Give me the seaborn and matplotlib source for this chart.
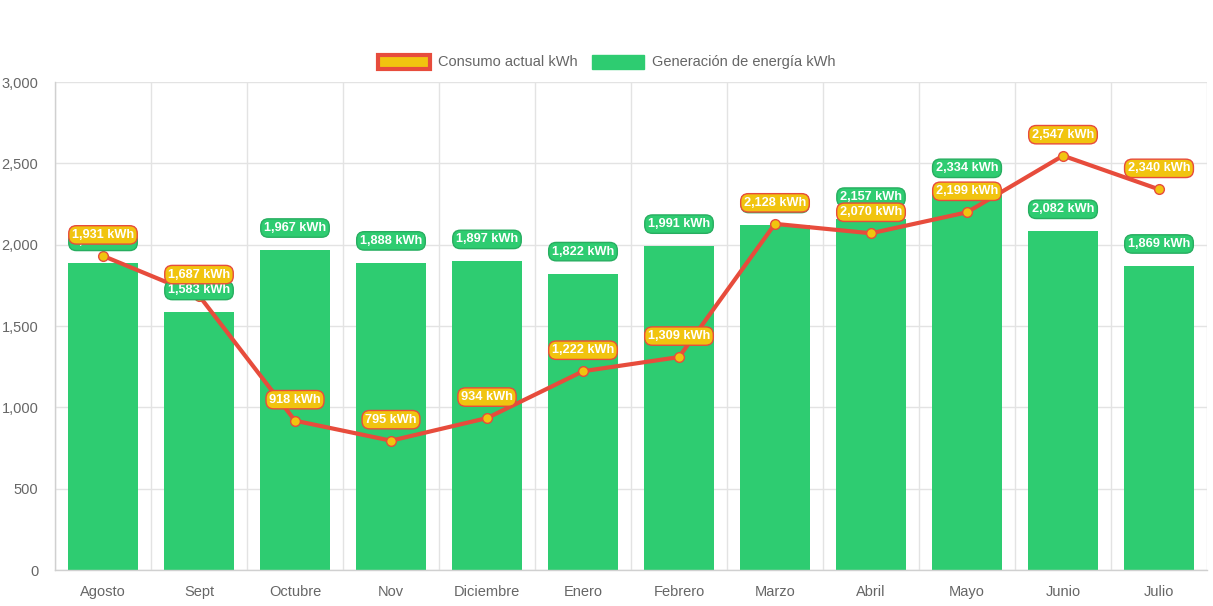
import numpy as np
import pandas as pd
import matplotlib
matplotlib.use("Agg")
import matplotlib.pyplot as plt
import seaborn as sns
from matplotlib.patches import Patch

meses = ["Agosto", "Sept", "Octubre", "Nov", "Diciembre", "Enero",
         "Febrero", "Marzo", "Abril", "Mayo", "Junio", "Julio"]
generacion = [1885, 1583, 1967, 1888, 1897, 1822, 1991, 2118, 2157, 2334, 2082, 1869]
consumo = [1931, 1687, 918, 795, 934, 1222, 1309, 2128, 2070, 2199, 2547, 2340]
y_ticks = [0, 500, 1000, 1500, 2000, 2500, 3000]

VERDE = "#2ecc71"
VERDE_BORDE = "#27ae60"
AMARILLO = "#f1c40f"
ROJO = "#e74c3c"
GRIS_TXT = "#666666"
GRIS_GRID = "#e3e3e3"

sns.set_theme(style="white")
plt.rcParams["font.family"] = ["Liberation Sans", "DejaVu Sans"]

df = pd.DataFrame({"mes": meses, "gen": generacion, "cons": consumo})
df["pos"] = np.arange(len(df))

fig = plt.figure(figsize=(12.13, 6.06), dpi=100)
ax = fig.add_axes([55 / 1213, 36 / 606, 1152 / 1213, 488 / 606])

sns.barplot(data=df, x="mes", y="gen", color=VERDE, saturation=1,
            width=0.72, edgecolor=VERDE, linewidth=0, ax=ax, zorder=2)
ax.plot(df["pos"], df["cons"], color=ROJO, lw=3, zorder=3,
        marker="o", markersize=7, markerfacecolor=AMARILLO,
        markeredgecolor=ROJO, markeredgewidth=1)

# etiquetas de datos (las de consumo quedan encima)
for i, v in enumerate(df["gen"]):
    ax.annotate(f"{v:,} kWh", (i, v), xytext=(0, 22), textcoords="offset pixels",
                ha="center", va="center", fontsize=9.2, fontweight="bold", color="white",
                zorder=5,
                bbox=dict(boxstyle="round,pad=0.25,rounding_size=0.6",
                          fc=VERDE, ec=VERDE_BORDE, lw=1))
for i, v in enumerate(df["cons"]):
    ax.annotate(f"{v:,} kWh", (i, v), xytext=(0, 21), textcoords="offset pixels",
                ha="center", va="center", fontsize=9.2, fontweight="bold", color="white",
                zorder=6,
                bbox=dict(boxstyle="round,pad=0.25,rounding_size=0.6",
                          fc=AMARILLO, ec=ROJO, lw=1))

ax.set_xlim(-0.5, len(meses) - 0.5)
ax.set_ylim(0, 3000)
ax.set_yticks(y_ticks)
ax.set_yticklabels([f"{t:,}" for t in y_ticks])
ax.set_xticks(df["pos"])
ax.set_xticklabels(meses)
ax.set_xticks(np.arange(len(meses) + 1) - 0.5, minor=True)
ax.set_xlabel("")
ax.set_ylabel("")

ax.tick_params(axis="x", which="major", length=0, pad=11, labelsize=10.5, labelcolor=GRIS_TXT)
ax.tick_params(axis="x", which="minor", length=8, color=GRIS_GRID, width=1)
ax.tick_params(axis="y", length=8, color=GRIS_GRID, width=1, pad=4,
               labelsize=10.5, labelcolor=GRIS_TXT)
ax.grid(True, axis="y", color=GRIS_GRID, lw=1, zorder=0)
ax.grid(True, axis="x", which="minor", color=GRIS_GRID, lw=1, zorder=0)
ax.grid(False, axis="x", which="major")
ax.set_axisbelow(True)
for s in ["top", "right"]:
    ax.spines[s].set_visible(False)
for s in ["left", "bottom"]:
    ax.spines[s].set_color("#d0d0d0")
    ax.spines[s].set_linewidth(1)

handles = [Patch(facecolor=AMARILLO, edgecolor=ROJO, linewidth=3, label="Consumo actual kWh"),
           Patch(facecolor=VERDE, edgecolor=VERDE, label="Generación de energía kWh")]
fig.legend(handles=handles, loc="center", bbox_to_anchor=(0.5, 1 - 62 / 606), ncol=2,
           frameon=False, fontsize=10.5, labelcolor=GRIS_TXT, handlelength=3.6,
           handleheight=1.1, columnspacing=1.0, handletextpad=0.5)

fig.savefig("out.png", dpi=100)
